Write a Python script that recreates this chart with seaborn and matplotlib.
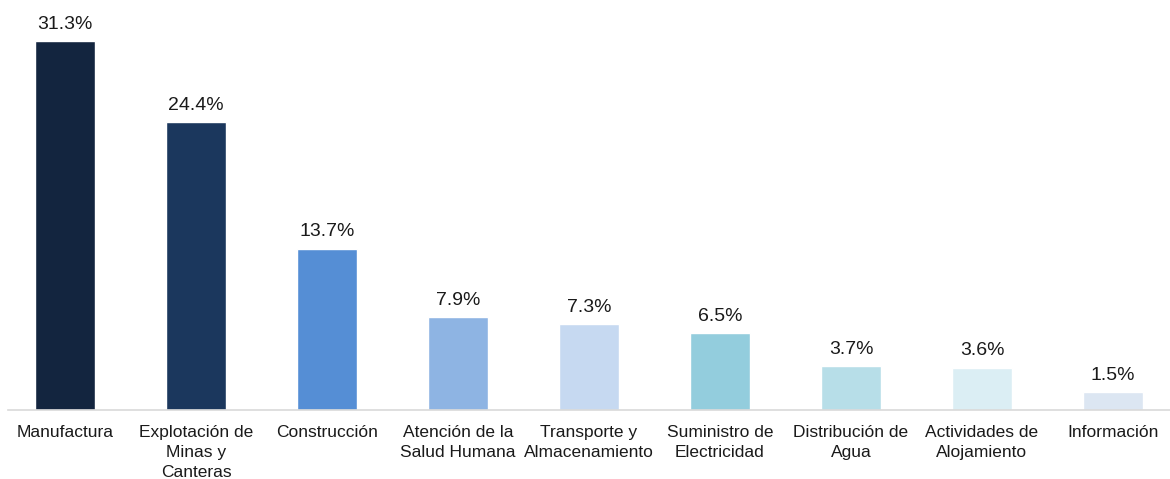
import numpy as np
import pandas as pd
import matplotlib
matplotlib.use("Agg")
import matplotlib.pyplot as plt
import seaborn as sns

# datos del gráfico
sectores = [
    "Manufactura",
    "Explotación de\nMinas y\nCanteras",
    "Construcción",
    "Atención de la\nSalud Humana",
    "Transporte y\nAlmacenamiento",
    "Suministro de\nElectricidad",
    "Distribución de\nAgua",
    "Actividades de\nAlojamiento",
    "Información",
]
porcentajes = [31.3, 24.4, 13.7, 7.9, 7.3, 6.5, 3.7, 3.6, 1.5]
colores = ["#13253f", "#1b375d", "#558ed5", "#8eb4e3", "#c6d9f1",
           "#93cddd", "#b7dee8", "#dbeef4", "#dce6f2"]

df = pd.DataFrame({"Sector": sectores, "Porcentaje": porcentajes})

sns.set_theme(style="white")
plt.rcParams['font.family'] = ['Liberation Sans', 'DejaVu Sans']

fig = plt.figure(figsize=(11.7, 4.79), dpi=100)
ax = fig.add_axes([0.0068, 0.144, 0.9932, 0.856])

sns.barplot(data=df, x="Sector", y="Porcentaje", hue="Sector",
            palette=colores, width=0.46, legend=False, ax=ax, saturation=1)

for i, v in enumerate(porcentajes):
    ax.annotate(f"{v}%", (i, v), xytext=(0, 6), textcoords="offset points",
                ha="center", va="bottom", fontsize=14, color="#1a1a1a")

ax.set_xlim(-0.435, 8.435)
ax.set_ylim(0, 34.78)
ax.set_xlabel("")
ax.set_ylabel("")
ax.set_yticks([])
ax.tick_params(axis="x", length=0, pad=11, labelsize=12.5, colors="#1a1a1a")
for lbl in ax.get_xticklabels():
    lbl.set_linespacing(1.42)

for s in ["top", "right", "left"]:
    ax.spines[s].set_visible(False)
ax.spines["bottom"].set_color("#d9d9d9")
ax.spines["bottom"].set_linewidth(1.2)

fig.savefig("out.png", dpi=100)
